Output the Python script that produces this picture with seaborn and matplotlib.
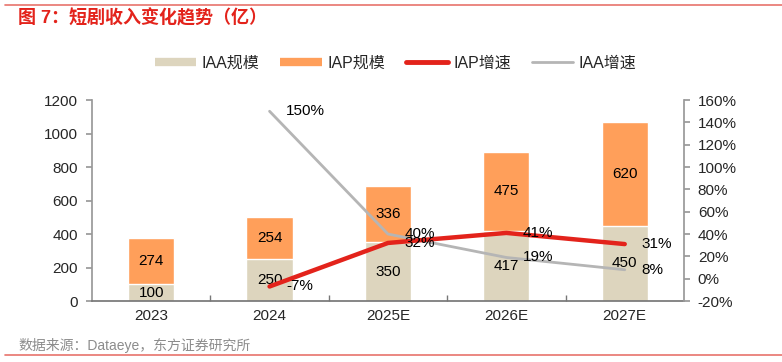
import numpy as np
import pandas as pd
import matplotlib
matplotlib.use("Agg")
import matplotlib.pyplot as plt
from matplotlib.lines import Line2D
import seaborn as sns

years = ["2023", "2024", "2025E", "2026E", "2027E"]
iaa_size = [100, 250, 350, 417, 450]
iap_size = [274, 254, 336, 475, 620]
iap_growth = [np.nan, -7, 32, 41, 31]
iaa_growth = [np.nan, 150, 40, 19, 8]

sns.set_theme(style="white")
plt.rcParams["font.family"] = ["Liberation Sans", "Noto Sans CJK SC", "DejaVu Sans"]

beige = "#DDD5BE"
orange = "#FF9F5A"
red = "#E3231B"
grey = "#B5B5B5"

df = pd.DataFrame({
    "year": years,
    "IAA": iaa_size,
    "IAP": iap_size,
})
df["total"] = df["IAA"] + df["IAP"]
df["pos"] = np.arange(len(years))
df["iap_g"] = iap_growth
df["iaa_g"] = iaa_growth

fig = plt.figure(figsize=(7.82, 3.62), dpi=100)
ax = fig.add_axes([0.1176, 0.1685, 0.757, 0.555])

sns.barplot(data=df, x="year", y="total", color=orange, width=0.39,
            saturation=1, ax=ax)
sns.barplot(data=df, x="year", y="IAA", color=beige, width=0.39,
            saturation=1, ax=ax)

for i, row in df.iterrows():
    ax.text(i, row["IAA"] / 2, str(row["IAA"]), ha="center", va="center",
            fontsize=11, color="black")
    ax.text(i, row["IAA"] + row["IAP"] / 2, str(row["IAP"]), ha="center",
            va="center", fontsize=11, color="black")

ax.set_ylim(0, 1200)
ax.set_yticks(range(0, 1201, 200))
ax.set_xlim(-0.5, 4.5)
ax.set_xticks(np.arange(len(years)))
ax.set_xticklabels(years)
ax.set_xticks(np.arange(0.5, 4, 1), minor=True)
ax.set_xlabel("")
ax.set_ylabel("")
ax.tick_params(axis="x", which="major", length=0, labelsize=11, pad=6)
ax.tick_params(axis="x", which="minor", direction="in", length=4,
               color="#777777", bottom=True)
ax.tick_params(axis="y", direction="out", length=4, color="#999999",
               labelsize=11, left=True, pad=6)
for s in ["top", "right"]:
    ax.spines[s].set_visible(False)
ax.spines["left"].set_color("#999999")
ax.spines["bottom"].set_color("#777777")

ax2 = ax.twinx()
sns.lineplot(data=df, x="pos", y="iaa_g", color=grey, linewidth=2, ax=ax2)
sns.lineplot(data=df, x="pos", y="iap_g", color=red, linewidth=3.2,
             solid_capstyle="round", ax=ax2)
ax2.set_ylim(-20, 160)
ax2.set_yticks(range(-20, 161, 20))
ax2.set_yticklabels([f"{v}%" for v in range(-20, 161, 20)])
ax2.set_xlim(-0.5, 4.5)
ax2.set_ylabel("")
ax2.set_xlabel("")
ax2.tick_params(axis="y", direction="out", length=4, color="#999999",
                labelsize=11, right=True, pad=6)
for s in ["top", "left", "bottom"]:
    ax2.spines[s].set_visible(False)
ax2.spines["right"].set_color("#999999")

for i in range(len(years)):
    for vals in (iap_growth, iaa_growth):
        v = vals[i]
        if np.isnan(v):
            continue
        ax2.annotate(f"{v:.0f}%", (i, v), xytext=(12, 0),
                     textcoords="offset points", ha="left", va="center",
                     fontsize=11, color="black")

handles = [
    Line2D([], [], color=beige, linewidth=6, solid_capstyle="butt"),
    Line2D([], [], color=orange, linewidth=6, solid_capstyle="butt"),
    Line2D([], [], color=red, linewidth=3.5, solid_capstyle="round"),
    Line2D([], [], color=grey, linewidth=2, solid_capstyle="round"),
]
labels = ["IAA规模", "IAP规模", "IAP增速", "IAA增速"]
fig.legend(handles, labels, loc="center", bbox_to_anchor=(0.506, 0.826),
           ncol=4, frameon=False, fontsize=11.5, handlelength=2.6,
           handletextpad=0.35, columnspacing=1.3)

fig.add_artist(Line2D([0.007, 1.0], [0.986, 0.986], color="#E8736C",
                      linewidth=1.2))
fig.add_artist(Line2D([0.007, 1.0], [0.019, 0.019], color="#E8736C",
                      linewidth=1.2))
fig.text(0.023, 0.95, "图 7：短剧收入变化趋势（亿）", color=red,
         fontsize=13, fontweight="bold", va="center", ha="left")
fig.text(0.023, 0.046, "数据来源：Dataeye，东方证券研究所", color="#8C8C8C",
         fontsize=10, va="center", ha="left")

fig.savefig("out.png", dpi=100)
